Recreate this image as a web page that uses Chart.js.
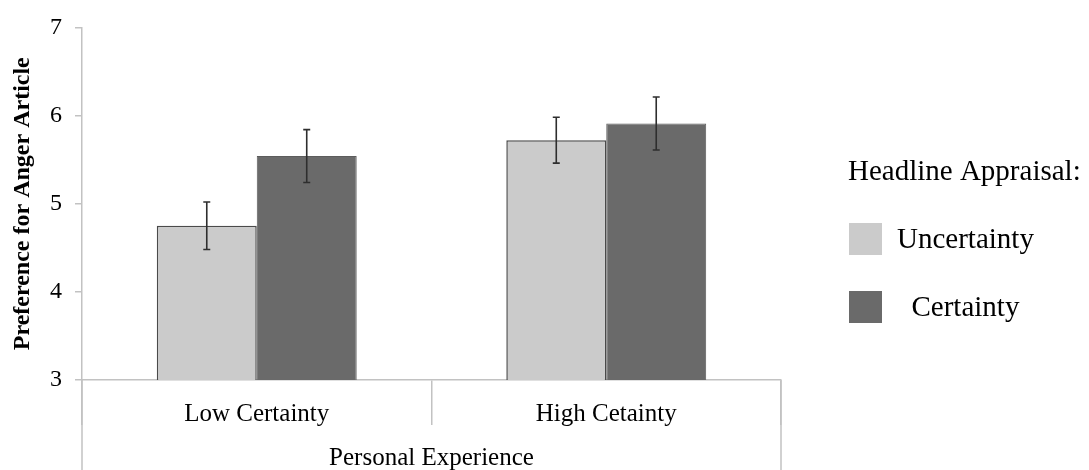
<!DOCTYPE html>
<html>
<head>
<meta charset="utf-8">
<script src="https://cdn.jsdelivr.net/npm/chart.js@4.4.1/dist/chart.umd.min.js"></script>
<style>
  html, body { margin: 0; padding: 0; background: #fff; }
</style>
</head>
<body>
<canvas id="barCanvas" width="1089" height="470"></canvas>
<script>
// values
const categories = ["Low Certainty", "High Cetainty"];
const seriesNames = ["Uncertainty", "  Certainty"];
const uncertaintyMeans = [4.75, 5.72];
const certaintyMeans = [5.54, 5.91];
const uncertaintyErrors = [0.27, 0.26];
const certaintyErrors = [0.30, 0.30];
const yTicks = [3, 4, 5, 6, 7];
const legendTitle = "Headline Appraisal:";

const serif = "'Liberation Serif', 'Times New Roman', serif";
const axisGrey = "#c2c2c2";
const textColor = "#000";

// error bars on top of each bar
const errorBars = {
    id: "errorBars",
    afterDatasetsDraw(chart) {
        const ctx = chart.ctx;
        const y = chart.scales.y;
        ctx.save();
        ctx.strokeStyle = "#2e2e2e";
        ctx.lineWidth = 1.6;
        chart.data.datasets.forEach((ds, i) => {
            chart.getDatasetMeta(i).data.forEach((bar, j) => {
                const hi = y.getPixelForValue(ds.data[j] + ds.errors[j]);
                const lo = y.getPixelForValue(ds.data[j] - ds.errors[j]);
                ctx.beginPath();
                ctx.moveTo(bar.x, hi); ctx.lineTo(bar.x, lo);
                ctx.moveTo(bar.x - 3.5, hi); ctx.lineTo(bar.x + 3.5, hi);
                ctx.moveTo(bar.x - 3.5, lo); ctx.lineTo(bar.x + 3.5, lo);
                ctx.stroke();
            });
        });
        ctx.restore();
    }
};

// outer frame lines below the x axis + legend on the right
const frameAndLegend = {
    id: "frameAndLegend",
    afterDraw(chart) {
        const ctx = chart.ctx;
        const x = chart.scales.x;
        const area = chart.chartArea;
        ctx.save();
        ctx.strokeStyle = axisGrey;
        ctx.lineWidth = 1.5;
        ctx.beginPath();
        ctx.moveTo(x.left, area.bottom); ctx.lineTo(x.left, chart.height);
        ctx.moveTo(x.right, area.bottom); ctx.lineTo(x.right, chart.height);
        ctx.stroke();

        const lx = area.right + 67;
        ctx.font = "29px " + serif;
        ctx.textBaseline = "middle";
        ctx.fillStyle = textColor;
        ctx.fillText(legendTitle, lx, 172);
        chart.data.datasets.forEach((ds, i) => {
            const top = 223 + i * 68;
            ctx.fillStyle = ds.backgroundColor;
            ctx.fillRect(lx + 1, top, 33, 32);
            ctx.fillStyle = textColor;
            ctx.fillText(ds.label, lx + 49, top + 17);
        });
        ctx.restore();
    }
};

const barCanvas = document.getElementById("barCanvas");
const barChart = new Chart(barCanvas, {
    type: "bar",
    data: {
        labels: categories,
        datasets: [{
            label: seriesNames[0],
            data: uncertaintyMeans,
            errors: uncertaintyErrors,
            backgroundColor: "#cbcbcb",
            borderColor: "#4a4a4a",
            borderWidth: 1.5
        }, {
            label: seriesNames[1],
            data: certaintyMeans,
            errors: certaintyErrors,
            backgroundColor: "#6a6a6a",
            borderColor: "#5c5c5c",
            borderWidth: 1
        }]
    },
    options: {
        responsive: false,
        animation: false,
        layout: { padding: { left: 0, top: 19, right: 308, bottom: 0 } },
        datasets: { bar: { categoryPercentage: 0.572, barPercentage: 1 } },
        plugins: { legend: { display: false }, tooltip: { enabled: false } },
        scales: {
            x: {
                afterFit: (scale) => { scale.height = 90; },
                grid: {
                    offset: true,
                    drawOnChartArea: false,
                    tickLength: 45,
                    color: axisGrey,
                    lineWidth: 1.5
                },
                border: { color: axisGrey, width: 1.5 },
                ticks: {
                    color: textColor,
                    padding: -26,
                    font: { family: serif, size: 25 }
                },
                title: {
                    display: true,
                    text: "Personal Experience",
                    color: textColor,
                    padding: { top: 0, bottom: -3 },
                    font: { family: serif, size: 25 }
                }
            },
            y: {
                min: 3,
                max: 7,
                afterFit: (scale) => { scale.width = 82; },
                afterBuildTicks: (scale) => { scale.ticks = yTicks.map(v => ({ value: v })); },
                grid: {
                    drawOnChartArea: false,
                    tickLength: 7,
                    color: axisGrey,
                    lineWidth: 1.5
                },
                border: { color: axisGrey, width: 1.5 },
                ticks: {
                    color: textColor,
                    padding: 13,
                    font: { family: serif, size: 24 }
                },
                title: {
                    display: true,
                    text: "Preference for Anger Article",
                    color: textColor,
                    padding: { top: 8, bottom: 0 },
                    font: { family: serif, size: 24, weight: "bold" }
                }
            }
        }
    },
    plugins: [errorBars, frameAndLegend]
});
</script>
</body>
</html>
